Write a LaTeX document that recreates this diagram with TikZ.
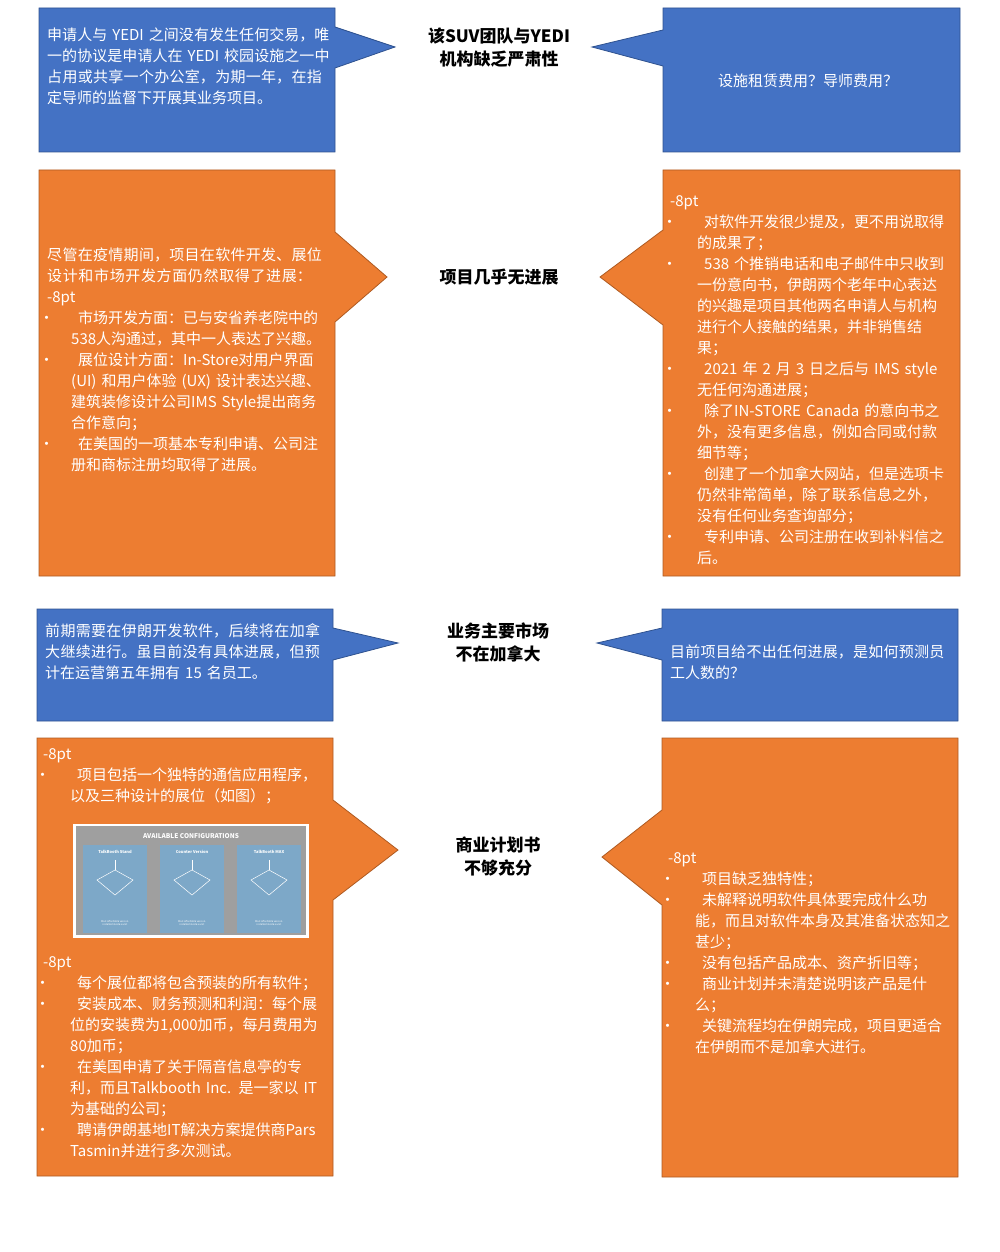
\documentclass[tikz,border=0pt]{standalone}
\usepackage{fontspec}
\setmainfont{Noto Sans CJK SC}
\XeTeXlinebreaklocale "zh"
\XeTeXlinebreakskip=0pt plus 1pt
\definecolor{bfill}{RGB}{68,114,196}
\definecolor{bdraw}{RGB}{47,82,143}
\definecolor{ofill}{RGB}{237,125,49}
\definecolor{odraw}{RGB}{174,90,33}
\definecolor{panel}{RGB}{125,168,200}
\newenvironment{blist}[1]{\begin{list}{\textbullet}{\setlength\leftmargin{#1}\setlength\labelsep{#1-8pt}\setlength\labelwidth{8pt}\setlength\itemsep{0pt}\setlength\topsep{0pt}\setlength\parsep{0pt}\setlength\partopsep{0pt}}}{\end{list}}
\begin{document}
\begin{tikzpicture}[x=1pt,y=-1pt,
  bluebox/.style={fill=bfill,draw=bdraw,line width=0.8pt},
  orangebox/.style={fill=ofill,draw=odraw,line width=0.8pt},
  txt/.style={text=white,font=\fontsize{15}{21}\selectfont,align=left,inner sep=0pt,anchor=north west},
  ttl/.style={font=\fontsize{17}{23}\selectfont\bfseries,align=center,text=black}]
\useasboundingbox (0,0) rectangle (1000,1252);
% row1
\path[bluebox] (39,8)--(335,8)--(335,27)--(395,47)--(335,68)--(335,152)--(39,152)--cycle;
\path[bluebox] (960,8)--(663,8)--(663,30)--(592,47)--(663,66)--(663,152)--(960,152)--cycle;
\node[txt,text width=284pt] (a1) at (47,28) {申请人与 YEDI 之间没有发生任何交易，唯一的协议是申请人在 YEDI 校园设施之一中占用或共享一个办公室，为期一年，在指定导师的监督下开展其业务项目。};
\node[ttl] (t1) at (499,48) {该SUV团队与YEDI\\机构缺乏严肃性};
\node[txt,anchor=center] (b1) at (808,81) {设施租赁费用？导师费用？};
% row2
\path[orangebox] (39,170)--(335,170)--(335,232)--(387,277)--(335,322)--(335,576)--(39,576)--cycle;
\path[orangebox] (960,170)--(663,170)--(663,230)--(600,277)--(663,325)--(663,576)--(960,576)--cycle;
\node[txt,text width=284pt] (a2) at (47,248) {尽管在疫情期间，项目在软件开发、展位设计和市场开发方面仍然取得了进展：
\begin{blist}{24pt}
\item 市场开发方面：已与安省养老院中的538人沟通过，其中一人表达了兴趣。
\item 展位设计方面：In-Store对用户界面 (UI) 和用户体验 (UX) 设计表达兴趣、建筑装修设计公司IMS Style提出商务合作意向；
\item 在美国的一项基本专利申请、公司注册和商标注册均取得了进展。
\end{blist}};
\node[ttl] (t2) at (499,277) {项目几乎无进展};
\node[txt,text width=280pt] (b2) at (670,195) {\begin{blist}{27pt}
\item 对软件开发很少提及，更不用说取得的成果了；
\item 538 个推销电话和电子邮件中只收到一份意向书，伊朗两个老年中心表达的兴趣是项目其他两名申请人与机构进行个人接触的结果，并非销售结果；
\item 2021 年 2 月 3 日之后与 IMS style 无任何沟通进展；
\item 除了IN-STORE Canada 的意向书之外，没有更多信息，例如合同或付款细节等；
\item 创建了一个加拿大网站，但是选项卡仍然非常简单，除了联系信息之外，没有任何业务查询部分；
\item 专利申请、公司注册在收到补料信之后。
\end{blist}};
% row3
\path[bluebox] (37,609)--(333,609)--(333,628)--(398,643)--(333,660)--(333,721)--(37,721)--cycle;
\path[bluebox] (958,609)--(662,609)--(662,628)--(597,643)--(662,660)--(662,721)--(958,721)--cycle;
\node[txt,text width=284pt] (a3) at (45,623) {前期需要在伊朗开发软件，后续将在加拿大继续进行。虽目前没有具体进展，但预计在运营第五年拥有 15 名员工。};
\node[ttl] (t3) at (498,642) {业务主要市场\\不在加拿大};
\node[txt,text width=282pt] (b3) at (670,645) {目前项目给不出任何进展，是如何预测员工人数的？};
% row4
\path[orangebox] (37,738)--(333,738)--(333,800)--(398,850)--(333,900)--(333,1176)--(37,1176)--cycle;
\path[orangebox] (958,738)--(662,738)--(662,810)--(602,857)--(662,905)--(662,1177)--(958,1177)--cycle;
\node[txt,text width=280pt] (a4a) at (43,748) {\begin{blist}{27pt}
\item 项目包括一个独特的通信应用程序，以及三种设计的展位（如图）；
\end{blist}};
% picture
\fill[white] (73,824) rectangle (309,938);
\fill[gray!75] (76,826) rectangle (306,935);
\node[font=\fontsize{6.5}{7}\selectfont\bfseries,text=white] (cfg) at (191,836) {AVAILABLE CONFIGURATIONS};
\foreach \xx/\nm in {83/TalkBooth Stand,160/Counter Version,237/TalkBooth MAX}{
  \fill[panel] (\xx,845) rectangle (\xx+64,933);
  \node[font=\fontsize{4}{4}\selectfont\bfseries,text=white] at (\xx+32,852) {\nm};
  \draw[white,line width=0.5pt] (\xx+14,880)--(\xx+32,870)--(\xx+50,880)--(\xx+32,895)--cycle;
  \draw[white,line width=0.5pt] (\xx+32,860)--(\xx+32,870);
  \node[font=\fontsize{2.5}{3}\selectfont,text=white,align=center] at (\xx+32,923) {Most affordable version.\\installed inside a unit};
}
\node[txt,text width=280pt] (a4b) at (43,956) {\begin{blist}{27pt}
\item 每个展位都将包含预装的所有软件；
\item 安装成本、财务预测和利润：每个展位的安装费为1,000加币，每月费用为80加币；
\item 在美国申请了关于隔音信息亭的专利，而且Talkbooth Inc. 是一家以 IT 为基础的公司；
\item 聘请伊朗基地IT解决方案提供商Pars Tasmin并进行多次测试。
\end{blist}};
\node[ttl] (t4) at (498,857) {商业计划书\\不够充分};
\node[txt,text width=282pt] (b4) at (668,852) {\begin{blist}{27pt}
\item 项目缺乏独特性；
\item 未解释说明软件具体要完成什么功能，而且对软件本身及其准备状态知之甚少；
\item 没有包括产品成本、资产折旧等；
\item 商业计划并未清楚说明该产品是什么；
\item 关键流程均在伊朗完成，项目更适合在伊朗而不是加拿大进行。
\end{blist}};
\end{tikzpicture}
\end{document}
